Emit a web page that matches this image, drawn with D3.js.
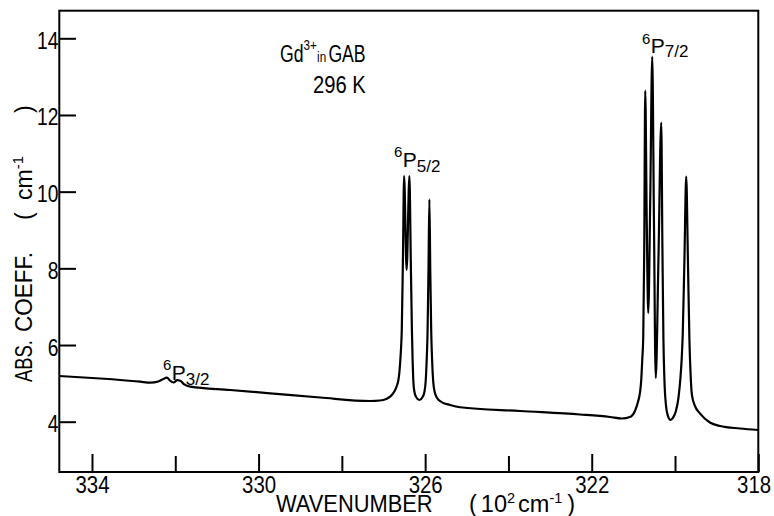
<!DOCTYPE html>
<html><head><meta charset="utf-8">
<script src="https://cdn.jsdelivr.net/npm/d3@7"></script>
<style>
body{margin:0;background:#fff;}
svg{display:block;font-family:"Liberation Sans",Arial,Helvetica,sans-serif;}
</style></head><body>
<svg id="c" width="774" height="516"></svg>
<script>
// Data (wavenumber in 10^2 cm^-1, absorption coefficient in cm^-1)
const wavenumber = [334.785, 333.801, 332.841, 332.601, 332.409, 332.301, 332.200, 332.121, 332.042, 331.953,
  331.881, 331.785, 331.641, 330.681, 329.721, 328.521, 327.321, 327.081, 326.937, 326.841,
  326.769, 326.721, 326.673, 326.642, 326.618, 326.601, 326.577, 326.561, 326.534, 326.505,
  326.445, 326.378, 326.345, 326.318, 326.301, 326.285, 326.261, 326.217, 326.138, 326.061,
  326.013, 325.985, 325.963, 325.941, 325.920, 325.898, 325.877, 325.855, 325.833, 325.809,
  325.773, 325.713, 325.594, 325.402, 325.162, 323.722, 322.282, 321.562, 321.274, 321.082,
  320.962, 320.890, 320.842, 320.811, 320.787, 320.763, 320.739, 320.715, 320.679, 320.643,
  320.595, 320.547, 320.506, 320.463, 320.398, 320.331, 320.302, 320.278, 320.254, 320.218,
  320.170, 320.110, 320.050, 319.978, 319.918, 319.870, 319.841, 319.815, 319.774, 319.731,
  319.690, 319.654, 319.625, 319.594, 319.522, 319.402, 319.162, 318.922, 318.442, 318.0];
const absCoeff = [5.192, 5.127, 5.044, 5.018, 5.049, 5.106, 5.148, 5.062, 5.023, 5.083,
  5.070, 4.971, 4.913, 4.827, 4.741, 4.631, 4.540, 4.553, 4.592, 4.652,
  4.736, 4.827, 4.957, 5.088, 5.296, 5.531, 5.956, 6.392, 8.218, 10.409,
  7.957, 10.409, 8.218, 6.392, 5.609, 5.088, 4.801, 4.644, 4.566, 4.644,
  4.801, 5.088, 5.609, 6.392, 7.957, 9.801, 7.957, 6.392, 5.609, 5.088,
  4.788, 4.618, 4.506, 4.436, 4.376, 4.279, 4.188, 4.123, 4.084, 4.123,
  4.279, 4.514, 4.749, 5.088, 5.609, 6.209, 8.478, 12.633, 9.261, 6.835,
  9.783, 13.520, 9.261, 5.140, 8.218, 11.799, 8.478, 6.131, 5.088, 4.436,
  4.149, 4.045, 4.097, 4.279, 4.618, 5.140, 5.609, 6.262, 8.218, 10.390,
  8.218, 6.131, 5.218, 4.697, 4.410, 4.219, 3.979, 3.888, 3.823, 3.784];
const xMajorTicks = [334, 330, 326, 322, 318];
const xMinorTicks = [332, 328, 324, 320];
const yTicks = [4, 6, 8, 10, 12, 14];

const svg = d3.select("#c");
const L = 59.3, R = 758.3, T = 10.7, B = 472;
const x = d3.scaleLinear().domain([334.785, 318]).range([L, R]);
const y = d3.scaleLinear().domain([2.688, 14.72]).range([B, T]);

// Y axis (ticks inward)
const gy = svg.append("g").attr("transform", `translate(${L},0)`)
  .call(d3.axisLeft(y).tickValues(yTicks).tickSize(-16.7).tickPadding(1).tickFormat(d3.format("d")));
gy.select(".domain").remove();
gy.selectAll(".tick line").attr("stroke", "#000").attr("stroke-width", 2);
gy.selectAll(".tick text").attr("font-size", 23.5).attr("fill", "#000")
  .attr("font-family", null).attr("dy", 10).attr("transform", "scale(0.82,1)");

// X axis major + minor (ticks inward)
const gx = svg.append("g").attr("transform", `translate(0,${B})`)
  .call(d3.axisBottom(x).tickValues(xMajorTicks).tickSize(-18).tickFormat(d3.format("d")));
gx.select(".domain").remove();
gx.selectAll(".tick line").attr("stroke", "#000").attr("stroke-width", 2);
gx.selectAll(".tick text").attr("font-size", 24).attr("fill", "#000")
  .attr("font-family", null).attr("y", 20.5).attr("dy", 0).attr("transform", "scale(0.85,1)")
  .attr("x", d => d === 318 ? -5.5 : 0);
const gx2 = svg.append("g").attr("transform", `translate(0,${B})`)
  .call(d3.axisBottom(x).tickValues(xMinorTicks).tickSize(-16).tickFormat(""));
gx2.select(".domain").remove();
gx2.selectAll(".tick line").attr("stroke", "#000").attr("stroke-width", 2);

// Frame
svg.append("rect").attr("x", L).attr("y", T).attr("width", R - L).attr("height", B - T)
  .attr("fill", "none").attr("stroke", "#000").attr("stroke-width", 2);

// Spectrum
const pts = wavenumber.map((w, i) => [w, absCoeff[i]]);
svg.append("path").datum(pts)
  .attr("fill", "none").attr("stroke", "#000").attr("stroke-width", 2.2).attr("stroke-linejoin", "round")
  .attr("d", d3.line().x(d => x(d[0])).y(d => y(d[1])).curve(d3.curveMonotoneX));

// Text helper
function label(x0, y0, parts, sx, rot) {
  const t = svg.append("text")
    .attr("transform", `translate(${x0},${y0})${rot ? " rotate(-90)" : ""} scale(${sx},1)`)
    .attr("fill", "#000");
  parts.forEach(p => t.append("tspan").attr("font-size", p[1]).attr("dy", p[2] || 0).attr("dx", p[3] || 0).text(p[0]));
  return t;
}

label(280, 61.5, [["Gd", 23.5], ["3+", 15.5, -11.5], ["in", 15.5, 12.2, 0.5], ["GAB", 23.5, -0.7, 3]], 0.75);
label(313, 93.3, [["296 K", 23.5]], 0.86);
label(394, 157.3, [["6", 15], ["P", 21, 10, 0.5], ["5/2", 17, 5]], 1);
label(642, 44, [["6", 15], ["P", 21, 9, 0.5], ["7/2", 17, 4]], 1);
label(163, 370, [["6", 15], ["P", 21, 10, 0.5], ["3/2", 17, 5]], 1);

// Axis titles
label(276, 512, [["WAVENUMBER", 23.5]], 0.93);
label(469, 512, [["(", 23.5], ["10", 23.5, 0, 4], ["2", 14.5, -9], ["cm", 23.5, 9, 3], ["-1", 14.5, -9], [")", 23.5, 9, 5]], 1);

label(31.7, 382, [["ABS.", 23]], 0.8, true);
label(31.7, 332, [["COEFF.", 23]], 0.98, true);
label(31.7, 220, [["(", 23]], 1, true);
label(31.7, 200, [["cm", 23], ["-1", 15, -9]], 1, true);
label(31.7, 113, [[")", 23]], 1, true);
</script>
</body></html>
